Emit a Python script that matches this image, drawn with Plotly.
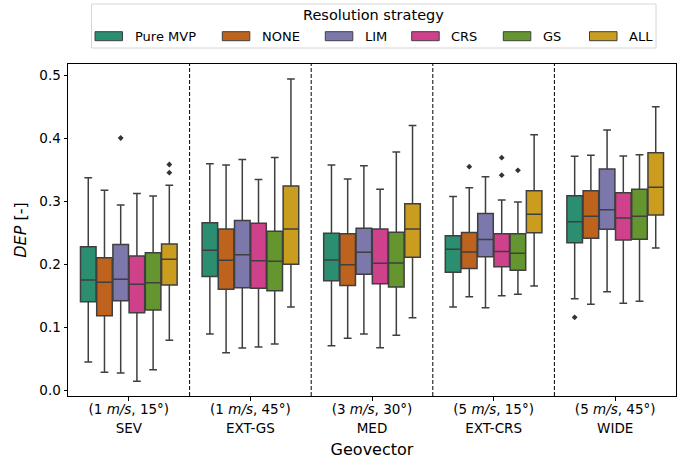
import plotly.graph_objects as go

# ---------------- data ----------------
geovectors = ["SEV", "EXT-GS", "MED", "EXT-CRS", "WIDE"]
conditions = ["(1 <i>m/s</i>, 15°)", "(1 <i>m/s</i>, 45°)", "(3 <i>m/s</i>, 30°)",
              "(5 <i>m/s</i>, 15°)", "(5 <i>m/s</i>, 45°)"]
strategies = ["Pure MVP", "NONE", "LIM", "CRS", "GS", "ALL"]
colors = ["#2b8e70", "#be631d", "#7c78ab", "#cf418a", "#65952f", "#ca9d1e"]

upper = {
    "Pure MVP": [0.337, 0.359, 0.357, 0.307, 0.371],
    "NONE":     [0.317, 0.357, 0.335, 0.321, 0.3725],
    "LIM":      [0.2937, 0.366, 0.356, 0.3386, 0.4127],
    "CRS":      [0.312, 0.334, 0.3185, 0.3016, 0.3714],
    "GS":       [0.308, 0.369, 0.3778, 0.2984, 0.3735],
    "ALL":      [0.325, 0.4937, 0.420, 0.405, 0.4497],
}
q3 = {
    "Pure MVP": [0.2275, 0.2656, 0.249, 0.245, 0.3085],
    "NONE":     [0.210, 0.2556, 0.248, 0.250, 0.3164],
    "LIM":      [0.231, 0.269, 0.2566, 0.280, 0.3508],
    "CRS":      [0.2127, 0.2646, 0.2556, 0.248, 0.3132],
    "GS":       [0.218, 0.2519, 0.2503, 0.248, 0.3185],
    "ALL":      [0.2317, 0.3238, 0.2958, 0.3164, 0.3767],
}
median = {
    "Pure MVP": [0.1746, 0.222, 0.2063, 0.2233, 0.267],
    "NONE":     [0.171, 0.2058, 0.199, 0.219, 0.2757],
    "LIM":      [0.1757, 0.2148, 0.2185, 0.239, 0.2862],
    "CRS":      [0.1677, 0.2053, 0.201, 0.220, 0.273],
    "GS":       [0.1704, 0.2042, 0.2016, 0.217, 0.2757],
    "ALL":      [0.2074, 0.2556, 0.2556, 0.2788, 0.3217],
}
q1 = {
    "Pure MVP": [0.1402, 0.180, 0.1735, 0.1868, 0.2339],
    "NONE":     [0.118, 0.160, 0.166, 0.193, 0.2407],
    "LIM":      [0.1418, 0.1624, 0.1836, 0.2116, 0.255],
    "CRS":      [0.1228, 0.1614, 0.1688, 0.1958, 0.238],
    "GS":       [0.127, 0.1577, 0.1635, 0.190, 0.2392],
    "ALL":      [0.1667, 0.1995, 0.2106, 0.2497, 0.2778],
}
lower = {
    "Pure MVP": [0.0444, 0.0889, 0.0704, 0.1317, 0.145],
    "NONE":     [0.028, 0.0593, 0.082, 0.148, 0.136],
    "LIM":      [0.027, 0.0667, 0.0889, 0.1307, 0.156],
    "CRS":      [0.0138, 0.0683, 0.0672, 0.1497, 0.1376],
    "GS":       [0.032, 0.073, 0.0868, 0.152, 0.1407],
    "ALL":      [0.079, 0.1317, 0.1148, 0.165, 0.2254],
}
outliers = {
    "Pure MVP": [[], [], [], [], [0.1153]],
    "NONE":     [[], [], [], [0.3545], []],
    "LIM":      [[0.400], [], [], [], []],
    "CRS":      [[], [], [], [0.3688, 0.341], []],
    "GS":       [[], [], [], [0.3487], []],
    "ALL":      [[0.358, 0.345], [], [], [], []],
}
yticks = [0.0, 0.1, 0.2, 0.3, 0.4, 0.5]

# ---------------- layout constants ----------------
W, H = 687, 464
ML, MR, MT, MB = 68, 11, 64, 68
PW, PH = W - ML - MR, H - MT - MB
FONT = "DejaVu Sans"
EDGE = "#3f3f3f"
n_h = len(strategies)
group_w = 0.8
box_w = group_w / n_h


def px_x(px):
    return (px - ML) / PW


def px_y(py):
    return (H - MB - py) / PH


fig = go.Figure()
for j, s in enumerate(strategies):
    off = -group_w / 2 + box_w * (j + 0.5)
    xs = [i + off for i in range(len(geovectors))]
    fig.add_trace(go.Box(
        x=xs, q1=q1[s], median=median[s], q3=q3[s],
        lowerfence=lower[s], upperfence=upper[s],
        width=box_w * 0.96, fillcolor=colors[j],
        line=dict(color=EDGE, width=1.5), whiskerwidth=0.5,
        boxpoints=False, name=s, showlegend=False,
    ))
    ox, oy = [], []
    for i, vals in enumerate(outliers[s]):
        for v in vals:
            ox.append(i + off)
            oy.append(v)
    if ox:
        fig.add_trace(go.Scatter(
            x=ox, y=oy, mode="markers", showlegend=False,
            marker=dict(symbol="diamond", size=4.5, color="#333333"),
        ))

# dummy trace to activate the second (label) x axis
fig.add_trace(go.Scatter(x=[0], y=[None], xaxis="x2", showlegend=False,
                         hoverinfo="skip", mode="markers"))

# dashed separators between geovectors
for i in range(len(geovectors) - 1):
    fig.add_shape(type="line", xref="x", yref="paper", x0=i + 0.5, x1=i + 0.5,
                  y0=0, y1=1, line=dict(color="black", width=1, dash="4px,2px"))

# ---------------- manual legend ----------------
leg_box = (91.5, 4, 656, 48)
fig.add_shape(type="rect", xref="paper", yref="paper",
              x0=px_x(leg_box[0]), x1=px_x(leg_box[2]),
              y0=px_y(leg_box[3]), y1=px_y(leg_box[1]),
              line=dict(color="#d6d6d6", width=1), fillcolor="white", layer="above")
fig.add_annotation(xref="paper", yref="paper", x=px_x(373), y=px_y(15.5),
                   text="Resolution strategy", showarrow=False,
                   xanchor="center", yanchor="middle",
                   font=dict(family=FONT, size=14.5, color="black"))
patch_x = [95, 222.3, 325.3, 411.7, 503.3, 589.5]
for j, s in enumerate(strategies):
    x0 = patch_x[j]
    fig.add_shape(type="rect", xref="paper", yref="paper",
                  x0=px_x(x0), x1=px_x(x0 + 27.5),
                  y0=px_y(40.7), y1=px_y(31.7),
                  line=dict(color=EDGE, width=1), fillcolor=colors[j], layer="above")
    fig.add_annotation(xref="paper", yref="paper", x=px_x(x0 + 37.5), y=px_y(36.5),
                       text=s, showarrow=False, xanchor="left", yanchor="middle",
                       font=dict(family=FONT, size=13, color="black"))

xr = [-0.5, len(geovectors) - 0.5]
fig.update_layout(
    width=W, height=H,
    margin=dict(l=ML, r=MR, t=MT, b=MB, autoexpand=False),
    paper_bgcolor="white", plot_bgcolor="white",
    font=dict(family=FONT, size=13.5, color="black"),
    boxmode="overlay",
    showlegend=False,
    xaxis=dict(
        range=xr, automargin=False,
        tickmode="array", tickvals=list(range(len(geovectors))), ticktext=conditions,
        ticks="outside", ticklen=3.5, tickcolor="black", tickwidth=1,
        ticklabelstandoff=-3,
        showline=True, linecolor="black", linewidth=1, mirror=True,
        showgrid=False, zeroline=False,
        tickfont=dict(family=FONT, size=13.5, color="black"),
    ),
    xaxis2=dict(
        range=xr, overlaying="x", anchor="y", side="bottom", automargin=False,
        tickmode="array", tickvals=list(range(len(geovectors))), ticktext=geovectors,
        ticks="", ticklabelstandoff=22,
        showline=False, showgrid=False, zeroline=False,
        tickfont=dict(family=FONT, size=13.5, color="black"),
        title=dict(text="Geovector", font=dict(family=FONT, size=16, color="black"),
                   standoff=9),
    ),
    yaxis=dict(
        range=[-0.00952, 0.51746], automargin=False,
        tickmode="array", tickvals=yticks, ticktext=[f"{v:.1f}" for v in yticks],
        ticks="outside", ticklen=3.5, tickcolor="black", tickwidth=1,
        showline=True, linecolor="black", linewidth=1, mirror=True,
        showgrid=False, zeroline=False,
        tickfont=dict(family=FONT, size=13.5, color="black"),
        title=dict(text="<i>DEP</i> [-]", font=dict(family=FONT, size=16, color="black"),
                   standoff=8),
    ),
)

fig.write_html("out.html")
